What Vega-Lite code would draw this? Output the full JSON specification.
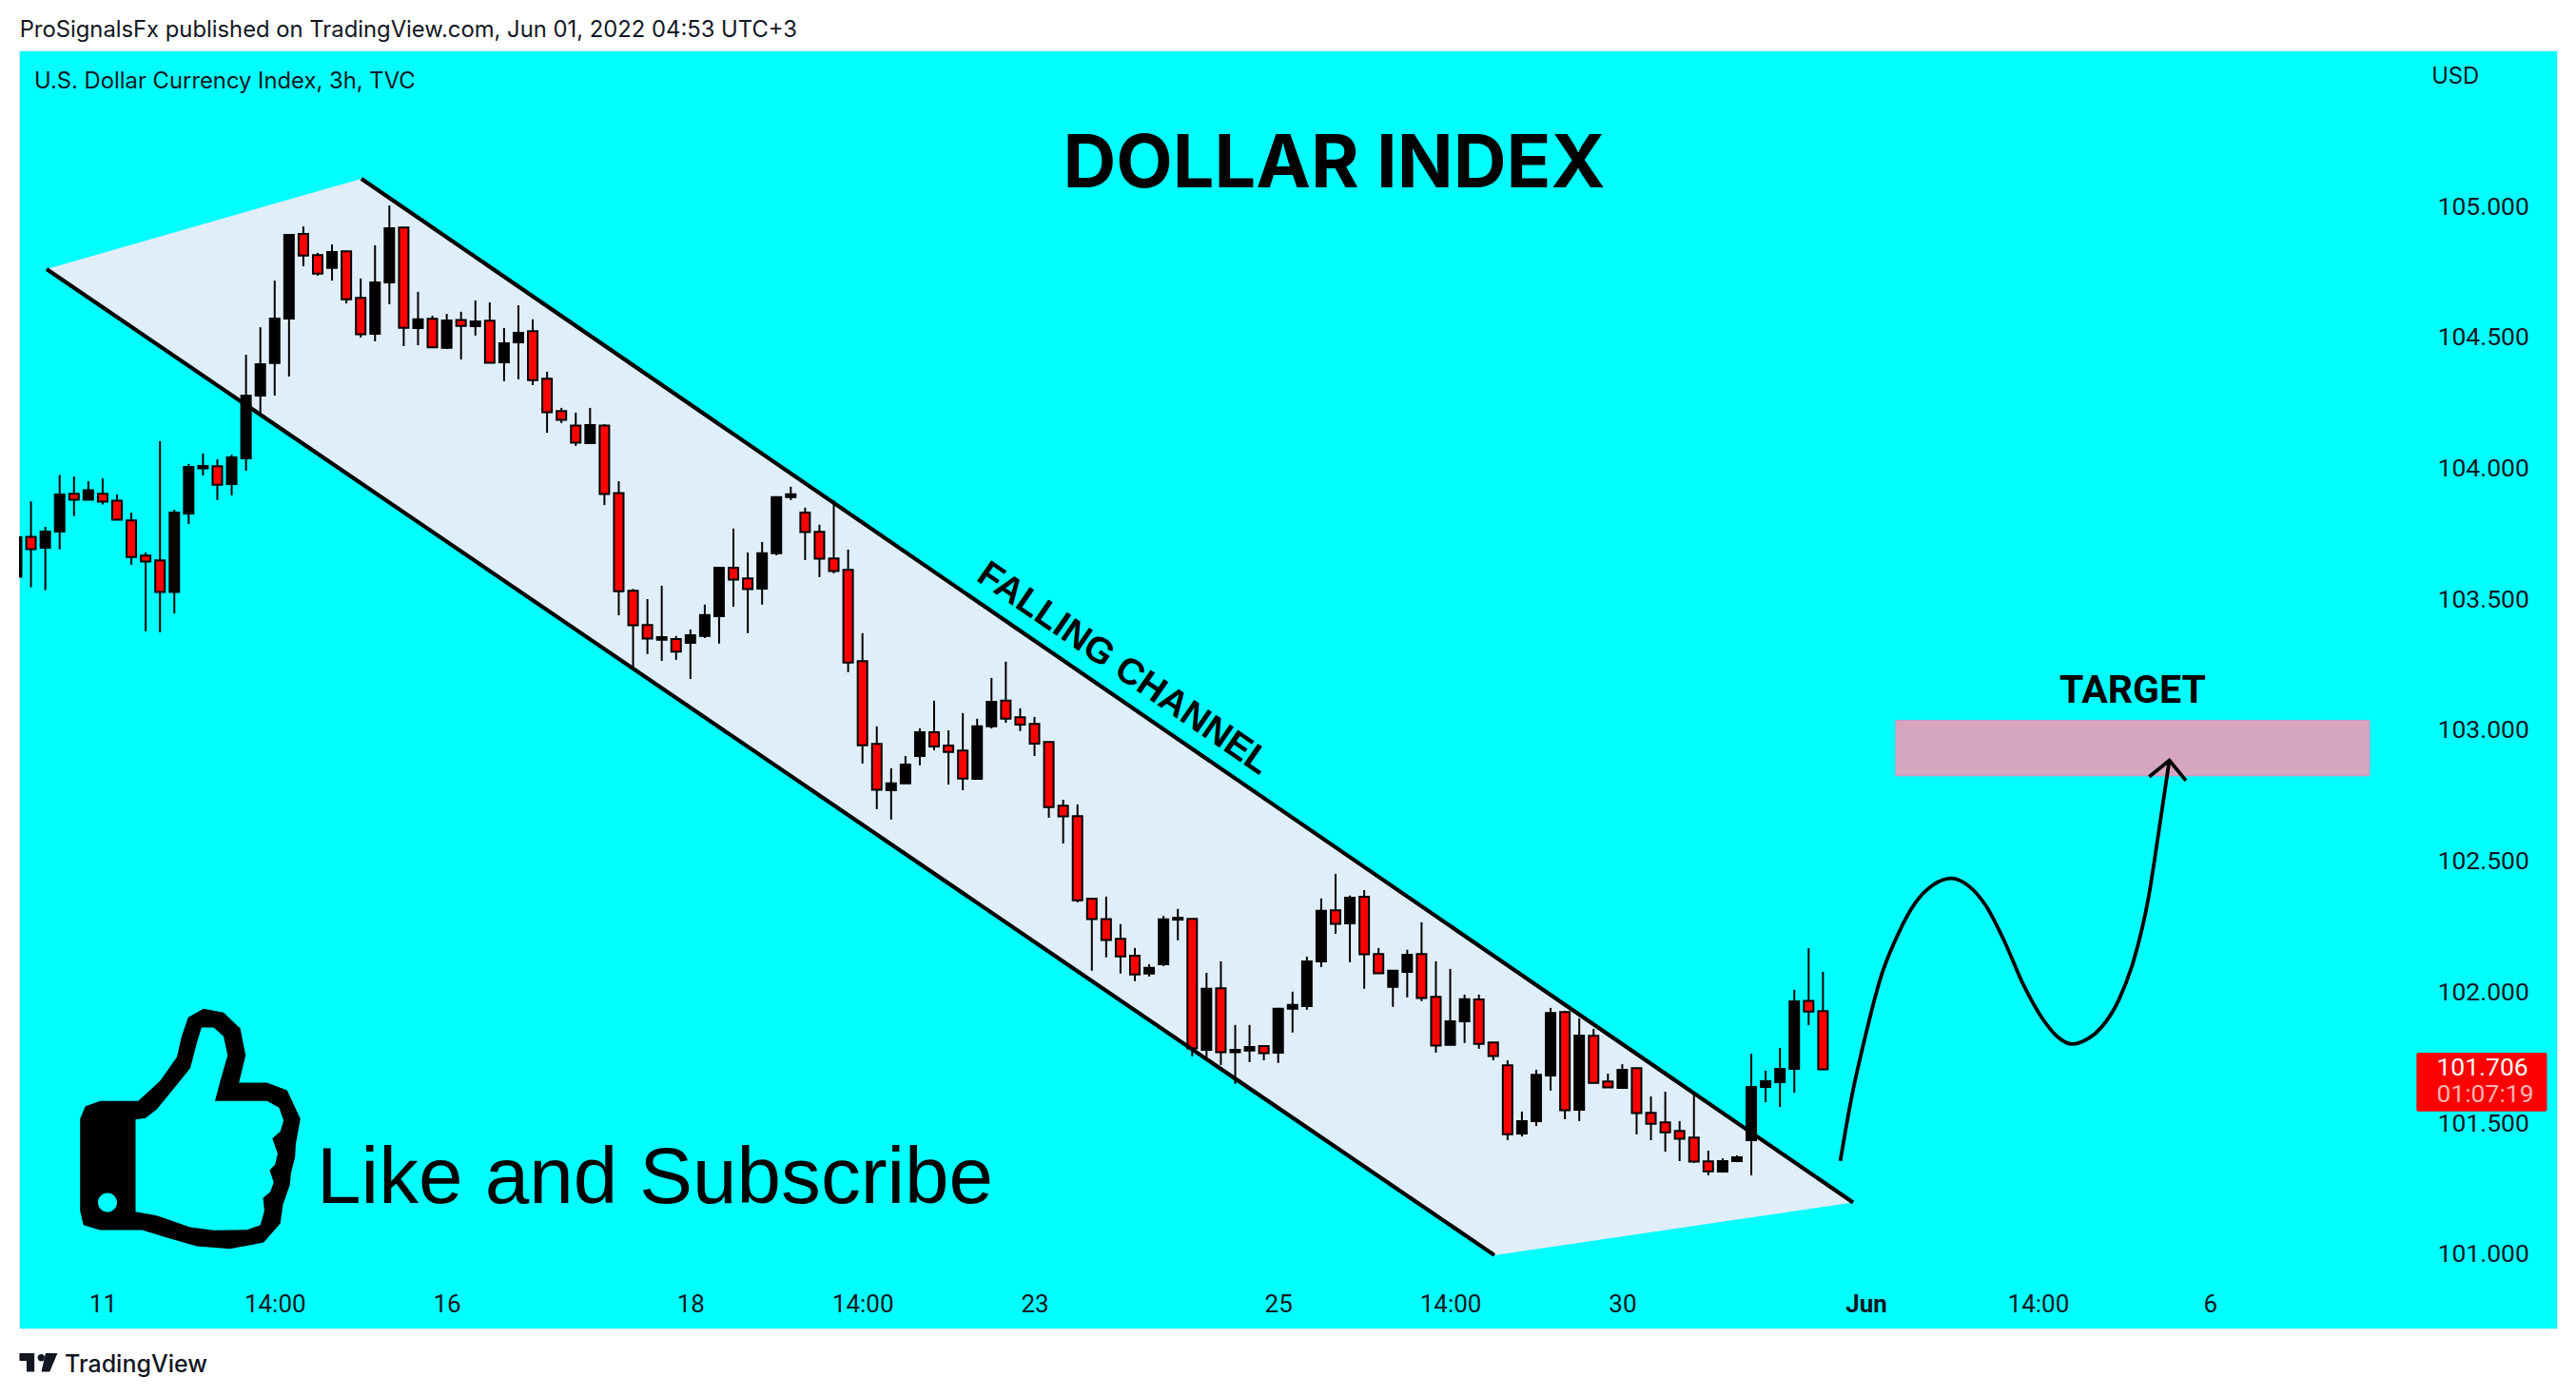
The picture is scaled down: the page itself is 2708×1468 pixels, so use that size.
{"$schema":"https://vega.github.io/schema/vega-lite/v6.json","width":2668,"height":1344,"autosize":{"type":"none"},"padding":{"left":20,"top":53,"right":20,"bottom":71},"background":"#ffffff","view":{"fill":"#00ffff","stroke":"#d5eef0"},"config":{"axis":{"grid":false,"domain":false,"ticks":false,"tickSize":0,"title":null}},
"datasets":{"candles":[
{"i":0,"open":103.586,"high":103.737,"low":103.586,"close":103.737},
{"i":1,"open":103.739,"high":103.874,"low":103.546,"close":103.692},
{"i":2,"open":103.697,"high":103.777,"low":103.535,"close":103.759},
{"i":3,"open":103.759,"high":103.975,"low":103.691,"close":103.9},
{"i":4,"open":103.903,"high":103.969,"low":103.818,"close":103.88},
{"i":5,"open":103.88,"high":103.951,"low":103.88,"close":103.917},
{"i":6,"open":103.903,"high":103.962,"low":103.862,"close":103.873},
{"i":7,"open":103.877,"high":103.9,"low":103.804,"close":103.804},
{"i":8,"open":103.801,"high":103.831,"low":103.632,"close":103.662},
{"i":9,"open":103.667,"high":103.679,"low":103.378,"close":103.644},
{"i":10,"open":103.649,"high":104.104,"low":103.374,"close":103.528},
{"i":11,"open":103.528,"high":103.842,"low":103.446,"close":103.831},
{"i":12,"open":103.828,"high":104.017,"low":103.788,"close":104.006},
{"i":13,"open":104.0,"high":104.057,"low":103.973,"close":104.009},
{"i":14,"open":104.008,"high":104.035,"low":103.879,"close":103.938},
{"i":15,"open":103.94,"high":104.052,"low":103.897,"close":104.042},
{"i":16,"open":104.038,"high":104.434,"low":103.991,"close":104.278},
{"i":17,"open":104.278,"high":104.539,"low":104.213,"close":104.398},
{"i":18,"open":104.402,"high":104.717,"low":104.278,"close":104.572},
{"i":19,"open":104.572,"high":104.895,"low":104.351,"close":104.892},
{"i":20,"open":104.895,"high":104.924,"low":104.772,"close":104.813},
{"i":21,"open":104.814,"high":104.823,"low":104.736,"close":104.744},
{"i":22,"open":104.765,"high":104.855,"low":104.717,"close":104.826},
{"i":23,"open":104.829,"high":104.829,"low":104.63,"close":104.646},
{"i":24,"open":104.651,"high":104.725,"low":104.5,"close":104.512},
{"i":25,"open":104.514,"high":104.852,"low":104.485,"close":104.71},
{"i":26,"open":104.71,"high":105.004,"low":104.627,"close":104.917},
{"i":27,"open":104.92,"high":104.921,"low":104.467,"close":104.537},
{"i":28,"open":104.536,"high":104.674,"low":104.47,"close":104.569},
{"i":29,"open":104.571,"high":104.583,"low":104.462,"close":104.462},
{"i":30,"open":104.46,"high":104.59,"low":104.456,"close":104.565},
{"i":31,"open":104.567,"high":104.598,"low":104.416,"close":104.544},
{"i":32,"open":104.543,"high":104.641,"low":104.507,"close":104.561},
{"i":33,"open":104.564,"high":104.634,"low":104.403,"close":104.403},
{"i":34,"open":104.405,"high":104.536,"low":104.333,"close":104.478},
{"i":35,"open":104.481,"high":104.623,"low":104.34,"close":104.518},
{"i":36,"open":104.524,"high":104.569,"low":104.318,"close":104.337},
{"i":37,"open":104.342,"high":104.369,"low":104.136,"close":104.214},
{"i":38,"open":104.219,"high":104.231,"low":104.173,"close":104.185},
{"i":39,"open":104.164,"high":104.213,"low":104.086,"close":104.098},
{"i":40,"open":104.096,"high":104.231,"low":104.096,"close":104.165},
{"i":41,"open":104.164,"high":104.169,"low":103.86,"close":103.902},
{"i":42,"open":103.906,"high":103.951,"low":103.439,"close":103.531},
{"i":43,"open":103.533,"high":103.54,"low":103.237,"close":103.401},
{"i":44,"open":103.402,"high":103.501,"low":103.291,"close":103.35},
{"i":45,"open":103.346,"high":103.552,"low":103.265,"close":103.356},
{"i":46,"open":103.348,"high":103.36,"low":103.269,"close":103.3},
{"i":47,"open":103.334,"high":103.385,"low":103.196,"close":103.363},
{"i":48,"open":103.36,"high":103.48,"low":103.352,"close":103.44},
{"i":49,"open":103.436,"high":103.621,"low":103.331,"close":103.621},
{"i":50,"open":103.621,"high":103.77,"low":103.472,"close":103.575},
{"i":51,"open":103.58,"high":103.679,"low":103.371,"close":103.539},
{"i":52,"open":103.541,"high":103.719,"low":103.48,"close":103.676},
{"i":53,"open":103.676,"high":103.893,"low":103.668,"close":103.89},
{"i":54,"open":103.89,"high":103.93,"low":103.879,"close":103.901},
{"i":55,"open":103.831,"high":103.85,"low":103.65,"close":103.757},
{"i":56,"open":103.758,"high":103.785,"low":103.585,"close":103.655},
{"i":57,"open":103.656,"high":103.879,"low":103.599,"close":103.608},
{"i":58,"open":103.613,"high":103.69,"low":103.222,"close":103.259},
{"i":59,"open":103.264,"high":103.371,"low":102.873,"close":102.943},
{"i":60,"open":102.948,"high":103.015,"low":102.699,"close":102.773},
{"i":61,"open":102.771,"high":102.855,"low":102.659,"close":102.797},
{"i":62,"open":102.797,"high":102.902,"low":102.797,"close":102.869},
{"i":63,"open":102.902,"high":103.007,"low":102.866,"close":102.993},
{"i":64,"open":102.993,"high":103.113,"low":102.924,"close":102.938},
{"i":65,"open":102.942,"high":103.0,"low":102.793,"close":102.917},
{"i":66,"open":102.923,"high":103.066,"low":102.771,"close":102.816},
{"i":67,"open":102.815,"high":103.044,"low":102.815,"close":103.015},
{"i":68,"open":103.015,"high":103.2,"low":103.007,"close":103.109},
{"i":69,"open":103.113,"high":103.262,"low":103.029,"close":103.044},
{"i":70,"open":103.05,"high":103.084,"low":102.997,"close":103.022},
{"i":71,"open":103.024,"high":103.051,"low":102.902,"close":102.949},
{"i":72,"open":102.955,"high":102.957,"low":102.666,"close":102.707},
{"i":73,"open":102.712,"high":102.735,"low":102.568,"close":102.671},
{"i":74,"open":102.672,"high":102.717,"low":102.343,"close":102.351},
{"i":75,"open":102.357,"high":102.358,"low":102.082,"close":102.279},
{"i":76,"open":102.279,"high":102.365,"low":102.133,"close":102.199},
{"i":77,"open":102.204,"high":102.26,"low":102.071,"close":102.137},
{"i":78,"open":102.139,"high":102.169,"low":102.042,"close":102.068},
{"i":79,"open":102.071,"high":102.107,"low":102.06,"close":102.093},
{"i":80,"open":102.107,"high":102.291,"low":102.1,"close":102.278},
{"i":81,"open":102.277,"high":102.318,"low":102.198,"close":102.284},
{"i":82,"open":102.28,"high":102.281,"low":101.755,"close":101.785},
{"i":83,"open":101.78,"high":102.074,"low":101.746,"close":102.013},
{"i":84,"open":102.015,"high":102.118,"low":101.722,"close":101.771},
{"i":85,"open":101.771,"high":101.875,"low":101.65,"close":101.78},
{"i":86,"open":101.777,"high":101.875,"low":101.733,"close":101.791},
{"i":87,"open":101.794,"high":101.795,"low":101.74,"close":101.767},
{"i":88,"open":101.769,"high":101.94,"low":101.73,"close":101.937},
{"i":89,"open":101.937,"high":102.002,"low":101.846,"close":101.951},
{"i":90,"open":101.947,"high":102.136,"low":101.933,"close":102.118},
{"i":91,"open":102.118,"high":102.358,"low":102.096,"close":102.311},
{"i":92,"open":102.313,"high":102.452,"low":102.223,"close":102.261},
{"i":93,"open":102.263,"high":102.369,"low":102.114,"close":102.361},
{"i":94,"open":102.364,"high":102.39,"low":102.013,"close":102.145},
{"i":95,"open":102.146,"high":102.169,"low":102.072,"close":102.072},
{"i":96,"open":102.02,"high":102.082,"low":101.944,"close":102.082},
{"i":97,"open":102.078,"high":102.162,"low":101.98,"close":102.143},
{"i":98,"open":102.146,"high":102.267,"low":101.966,"close":101.978},
{"i":99,"open":101.982,"high":102.118,"low":101.769,"close":101.796},
{"i":100,"open":101.799,"high":102.089,"low":101.799,"close":101.889},
{"i":101,"open":101.889,"high":101.991,"low":101.806,"close":101.973},
{"i":102,"open":101.972,"high":101.991,"low":101.784,"close":101.803},
{"i":103,"open":101.808,"high":101.809,"low":101.74,"close":101.756},
{"i":104,"open":101.721,"high":101.74,"low":101.435,"close":101.458},
{"i":105,"open":101.46,"high":101.544,"low":101.449,"close":101.508},
{"i":106,"open":101.508,"high":101.704,"low":101.489,"close":101.685},
{"i":107,"open":101.682,"high":101.94,"low":101.624,"close":101.921},
{"i":108,"open":101.924,"high":101.929,"low":101.515,"close":101.549},
{"i":109,"open":101.551,"high":101.9,"low":101.508,"close":101.834},
{"i":110,"open":101.833,"high":101.86,"low":101.654,"close":101.654},
{"i":111,"open":101.659,"high":101.689,"low":101.636,"close":101.636},
{"i":112,"open":101.635,"high":101.725,"low":101.635,"close":101.704},
{"i":113,"open":101.71,"high":101.711,"low":101.457,"close":101.538},
{"i":114,"open":101.539,"high":101.602,"low":101.435,"close":101.498},
{"i":115,"open":101.503,"high":101.62,"low":101.391,"close":101.465},
{"i":116,"open":101.47,"high":101.508,"low":101.355,"close":101.44},
{"i":117,"open":101.445,"high":101.609,"low":101.348,"close":101.353},
{"i":118,"open":101.354,"high":101.395,"low":101.301,"close":101.316},
{"i":119,"open":101.315,"high":101.366,"low":101.311,"close":101.355},
{"i":120,"open":101.355,"high":101.377,"low":101.351,"close":101.37},
{"i":121,"open":101.435,"high":101.765,"low":101.301,"close":101.638},
{"i":122,"open":101.638,"high":101.7,"low":101.58,"close":101.66},
{"i":123,"open":101.656,"high":101.787,"low":101.562,"close":101.707},
{"i":124,"open":101.707,"high":102.009,"low":101.616,"close":101.965},
{"i":125,"open":101.967,"high":102.168,"low":101.874,"close":101.926},
{"i":126,"open":101.928,"high":102.078,"low":101.705,"close":101.705}
]},
"encoding":{"x":{"field":"i","type":"quantitative","scale":{"domain":[0.166,177.2],"nice":false,"zero":false,"padding":0},"axis":{"orient":"bottom","values":[6,18,30,47,59,71,88,100,112,129,141,153],"labelExpr":"{'6':'11','18':'14:00','30':'16','47':'18','59':'14:00','71':'23','88':'25','100':'14:00','112':'30','129':'Jun','141':'14:00','153':'6'}[''+datum.value]","offset":-36,"labelPadding":10,"labelBaseline":"middle","labelFont":"Roboto","labelFontSize":26,"labelColor":"#131722","labelFontWeight":{"expr":"datum.value==129?'bold':'normal'"},"labelOverlap":false,"labelFlush":false,"labelBound":false}},
"y":{"field":"price","type":"quantitative","scale":{"domain":[100.716,105.596],"nice":false,"zero":false},"axis":{"orient":"right","values":[101,101.5,102,102.5,103,103.5,104,104.5,105],"format":".3f","offset":-126,"labelPadding":0,"labelAlign":"left","labelBaseline":"middle","labelFont":"Roboto","labelFontSize":26.5,"labelColor":"#131722","labelOverlap":false,"labelFlush":false,"labelBound":false}}},
"layer":[
{"data":{"values":[{"i":2.09,"upper":104.761,"lower":104.761},{"i":24.05,"upper":105.106,"lower":103.942},{"i":103.08,"upper":102.137,"lower":100.996},{"i":128.1,"upper":101.197,"lower":101.197}]},"mark":{"type":"area","fill":"#e0eefa","opacity":1,"clip":true},"encoding":{"y":{"field":"upper","type":"quantitative","scale":{"domain":[100.716,105.596],"nice":false,"zero":false}},"y2":{"field":"lower"}}},
{"data":{"name":"candles"},"mark":{"type":"rule","color":"#000000","strokeWidth":2,"clip":true},"encoding":{"y":{"field":"low","type":"quantitative","scale":{"domain":[100.716,105.596],"nice":false,"zero":false}},"y2":{"field":"high"}}},
{"data":{"name":"candles"},"mark":{"type":"bar","size":10,"stroke":"#000000","strokeWidth":2,"clip":true},"encoding":{"y":{"field":"open","type":"quantitative","scale":{"domain":[100.716,105.596],"nice":false,"zero":false}},"y2":{"field":"close"},"fill":{"condition":{"test":"datum.close<datum.open","value":"#ff0000"},"value":"#000000"}}},
{"data":{"values":[{"i":24.05,"price":105.106,"edge":"upper"},{"i":128.1,"price":101.197,"edge":"upper"},{"i":2.09,"price":104.761,"edge":"lower"},{"i":103.08,"price":100.996,"edge":"lower"}]},"mark":{"type":"line","color":"#000000","strokeWidth":4.2},"encoding":{"detail":{"field":"edge"}}},
{"data":{"values":[{"i":131.07,"i2":164.13,"price":103.038,"price2":102.826}]},"mark":{"type":"rect","fill":"#d6a6bf","stroke":"#c995c9","strokeWidth":1},"encoding":{"x2":{"field":"i2"},"y2":{"field":"price2"}}},
{"data":{"values":[{"i":127.21,"price":101.356},{"i":128.0,"price":101.6},{"i":128.85,"price":101.808},{"i":130.05,"price":102.06},{"i":131.25,"price":102.223},{"i":132.44,"price":102.341},{"i":133.64,"price":102.408},{"i":134.94,"price":102.435},{"i":136.2,"price":102.404},{"i":137.4,"price":102.327},{"i":138.6,"price":102.201},{"i":139.97,"price":102.03},{"i":141.34,"price":101.897},{"i":142.36,"price":101.83},{"i":143.39,"price":101.802},{"i":144.41,"price":101.82},{"i":145.44,"price":101.867},{"i":146.64,"price":101.971},{"i":147.66,"price":102.119},{"i":148.69,"price":102.356},{"i":149.37,"price":102.593},{"i":150.16,"price":102.885}]},"mark":{"type":"line","color":"#000000","strokeWidth":3.8,"interpolate":"monotone"}},
{"data":{"values":[{"i":148.76,"price":102.823},{"i":150.16,"price":102.885},{"i":151.32,"price":102.808}]},"mark":{"type":"line","color":"#000000","strokeWidth":3.8}},
{"data":{"values":[{"i":167.4,"i2":176.5,"price":101.769,"price2":101.545}]},"mark":{"type":"rect","fill":"#ff0000","cornerRadius":2},"encoding":{"x2":{"field":"i2"},"y2":{"field":"price2"}}},
{"data":{"values":[{"i":168.8,"price":101.711,"label":"101.706"}]},"mark":{"type":"text","font":"Roboto","fontSize":26.5,"color":"#ffffff","align":"left","baseline":"middle"},"encoding":{"text":{"field":"label"}}},
{"data":{"values":[{"i":168.8,"price":101.611,"label":"01:07:19"}]},"mark":{"type":"text","font":"Roboto","fontSize":26.5,"color":"#ffb3b3","align":"left","baseline":"middle"},"encoding":{"text":{"field":"label"}}},
{"data":{"values":[{"i":91.9,"price":105.157,"label":"DOLLAR INDEX"}]},"mark":{"type":"text","font":"Inter","fontSize":77.3,"fontWeight":"bold","color":"#000000","align":"center","baseline":"middle"},"encoding":{"text":{"field":"label"}}},
{"data":{"values":[{"i":147.6,"price":103.147,"label":"TARGET"}]},"mark":{"type":"text","font":"Roboto","fontSize":41,"fontWeight":"bold","color":"#000000","align":"center","baseline":"middle"},"encoding":{"text":{"field":"label"}}},
{"data":{"values":[{"i":77.25,"price":103.237,"label":"FALLING CHANNEL"}]},"mark":{"type":"text","font":"Liberation Sans","fontSize":38.5,"fontWeight":"bold","color":"#000000","align":"center","baseline":"middle","angle":34.5},"encoding":{"text":{"field":"label"}}},
{"data":{"values":[{"i":20.94,"price":101.195,"label":"Like and Subscribe"}]},"mark":{"type":"text","font":"Liberation Sans","fontSize":83.6,"color":"#000000","align":"left","baseline":"alphabetic"},"encoding":{"text":{"field":"label"}}},
{"data":{"values":[{"i":12.11,"price":101.479}]},"mark":{"type":"point","filled":true,"opacity":1,"size":4,"color":"#000000","shape":"M-94.7,-29L-54.7,-29L-31.6,-50.3L-14,-75.3L-9.1,-97L-2.1,-117L14,-126L35,-122L52.6,-105.3L58.2,-77L51.2,-48.3L80.7,-48.3L101.8,-40.3L115.8,-10.3L110.9,16.3L110.2,29.7L106,46.3L104.6,59.7L97.5,79.7L94.7,99.7L77.2,119.7L42,126.3L7,123.7L-24.6,114.7L-50.5,106.7L-94.7,106.7L-112.3,101.3L-115.8,86.3L-115.8,-10.3L-110.2,-23.7Z"}},
{"data":{"values":[{"i":12.11,"price":101.479}]},"mark":{"type":"point","filled":true,"opacity":1,"size":4,"color":"#00ffff","shape":"M-57.5,-9.7L-47,-11L-35.1,-20.3L-16.1,-43.7L0,-63.7L7,-90.3L11.9,-106.3L24.6,-106.3L35,-97L39.3,-77L31.6,-50.3L26,-29L80.7,-29L93.3,-22L98.2,-8.7L94.7,3L86.3,10.3L91.9,26.3L89.1,38L83.5,43.7L87.7,56.3L84.2,66.3L76.5,73L77.9,86.3L73.7,101.3L59.6,106.3L24.6,107L0,103.7L-35.1,91.3L-57.5,87.3ZM-97,77.7a10,10 0 1,0 20,0a10,10 0 1,0 -20,0Z"}},
{"data":{"values":[{"i":0.21,"price":105.647,"label":"ProSignalsFx published on TradingView.com, Jun 01, 2022 04:53 UTC+3"}]},"mark":{"type":"text","font":"Inter","fontSize":23.8,"color":"#131722","align":"left","baseline":"alphabetic"},"encoding":{"text":{"field":"label"}}},
{"data":{"values":[{"i":1.23,"price":105.451,"label":"U.S. Dollar Currency Index, 3h, TVC"}]},"mark":{"type":"text","font":"Inter","fontSize":23.8,"color":"#131722","align":"left","baseline":"alphabetic"},"encoding":{"text":{"field":"label"}}},
{"data":{"values":[{"i":168.45,"price":105.495,"label":"USD"}]},"mark":{"type":"text","font":"Inter","fontSize":23.8,"color":"#131722","align":"left","baseline":"middle"},"encoding":{"text":{"field":"label"}}},
{"data":{"values":[{"i":3.35,"price":100.549,"label":"TradingView"}]},"mark":{"type":"text","font":"Inter","fontSize":25,"fontWeight":500,"color":"#131722","align":"left","baseline":"alphabetic"},"encoding":{"text":{"field":"label"}}},
{"data":{"values":[{"i":1.49,"price":100.585}]},"mark":{"type":"point","filled":true,"opacity":1,"size":4,"color":"#131722","shape":"M-19.5,-10H-3.8V9.5H-12V-2H-19.5ZM7.2,-5.3a3.8,3.8 0 1,0 -7.6,0a3.8,3.8 0 1,0 7.6,0ZM8,-10H20.5L12.3,9.5H3.5Z"}}
]}
